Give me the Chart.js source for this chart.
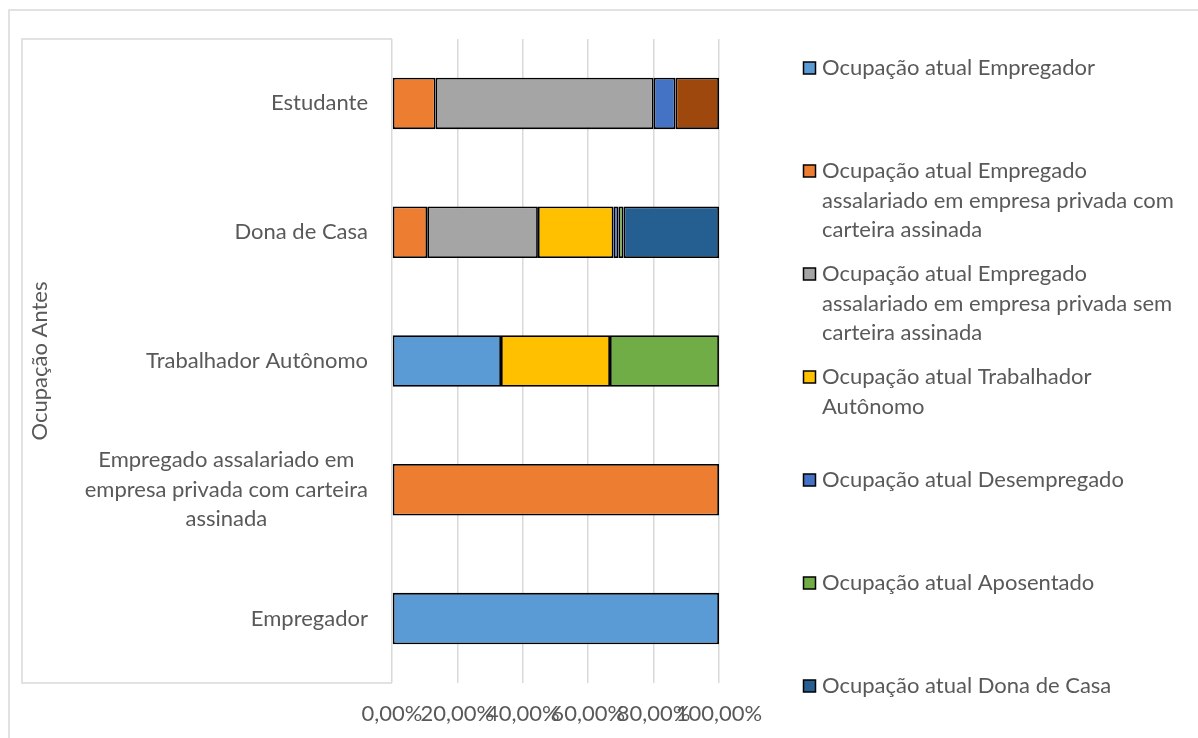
<!DOCTYPE html>
<html>
<head>
<meta charset="utf-8">
<script src="https://cdn.jsdelivr.net/npm/chart.js@4.4.1/dist/chart.umd.min.js"></script>
<style>
  html, body { margin: 0; padding: 0; background: #fff; }
  #wrap { position: relative; width: 1198px; height: 738px; }
</style>
</head>
<body>
<div id="wrap"><canvas id="c" width="1198" height="738"></canvas></div>
<script>
// Ocupação antes (linhas, de cima para baixo)
const categories = [
  ['Estudante'],
  ['Dona de Casa'],
  ['Trabalhador Autônomo'],
  ['Empregado assalariado em', 'empresa privada com carteira', 'assinada'],
  ['Empregador']
];

// Ocupação atual, em % de cada linha
const empregador     = [null, null, 33.33, null, 100];
const comCarteira    = [13.33, 10.77, null, 100, null];
const semCarteira    = [66.67, 33.85, null, null, null];
const autonomo       = [null, 23.08, 33.33, null, null];
const desempregado   = [6.67, 1.54, null, null, null];
const aposentado     = [null, 1.54, 33.33, null, null];
const donaDeCasa     = [null, 29.23, null, null, null];
const estudante      = [13.33, null, null, null, null];

const xTicks = [0, 20, 40, 60, 80, 100];

const seriesNames = [
  ['Ocupação atual Empregador'],
  ['Ocupação atual Empregado', 'assalariado em empresa privada com', 'carteira assinada'],
  ['Ocupação atual Empregado', 'assalariado em empresa privada sem', 'carteira assinada'],
  ['Ocupação atual Trabalhador', 'Autônomo'],
  ['Ocupação atual Desempregado'],
  ['Ocupação atual Aposentado'],
  ['Ocupação atual Dona de Casa'],
  ['Ocupação atual Estudante']
];
const seriesData = [empregador, comCarteira, semCarteira, autonomo, desempregado, aposentado, donaDeCasa, estudante];
const colors = ['#5B9BD5', '#ED7D31', '#A5A5A5', '#FFC000', '#4472C4', '#70AD47', '#255E91', '#9E480E'];
const legendCount = 7; // the last series does not fit in the legend column

const FONT = 'Lato, "Open Sans", sans-serif';
const FSIZE = 22;
const TEXT = '#595959';
const LINE = '#D9D9D9';

const datasets = seriesData.map((d, i) => ({
  label: seriesNames[i].join(' '),
  data: d,
  backgroundColor: colors[i],
  borderColor: '#000',
  borderWidth: 1.8,
  borderSkipped: false,
  categoryPercentage: 1,
  barPercentage: 0.4
}));

// frames, category labels and legend
const decor = {
  id: 'decor',
  beforeDraw(chart) {
    const ctx = chart.ctx;
    const a = chart.chartArea;
    ctx.save();
    ctx.strokeStyle = LINE;
    ctx.lineWidth = 1.5;
    // outer frame
    ctx.beginPath();
    ctx.moveTo(9, 738); ctx.lineTo(9, 10); ctx.lineTo(1198, 10);
    ctx.stroke();
    // plot frame on the label side
    ctx.beginPath();
    ctx.moveTo(a.left, a.top); ctx.lineTo(22, a.top); ctx.lineTo(22, a.bottom); ctx.lineTo(a.left, a.bottom);
    ctx.stroke();
    ctx.restore();
  },
  afterDraw(chart) {
    const ctx = chart.ctx;
    const y = chart.scales.y;
    ctx.save();
    ctx.fillStyle = TEXT;
    ctx.font = FSIZE + 'px ' + FONT;
    ctx.textBaseline = 'middle';
    const right = 368, lh = 29.5;
    categories.forEach((lines, i) => {
      const cy = y.getPixelForTick(i);
      if (lines.length === 1) {
        ctx.textAlign = 'right';
        ctx.fillText(lines[0], right, cy);
      } else {
        const w = Math.max(...lines.map(t => ctx.measureText(t).width));
        const cx = right - w / 2;
        ctx.textAlign = 'center';
        lines.forEach((t, j) => ctx.fillText(t, cx, cy + (j - (lines.length - 1) / 2) * lh));
      }
    });
    // legend
    ctx.textAlign = 'left';
    for (let k = 0; k < legendCount; k++) {
      const ty = 68 + k * 103;
      ctx.fillStyle = colors[k];
      ctx.fillRect(803.5, ty - 6, 12, 12);
      ctx.strokeStyle = '#000';
      ctx.lineWidth = 1.5;
      ctx.strokeRect(803.5, ty - 6, 12, 12);
      ctx.fillStyle = TEXT;
      seriesNames[k].forEach((t, j) => ctx.fillText(t, 822, ty + j * 29.5));
    }
    ctx.restore();
  }
};

new Chart(document.getElementById('c'), {
  type: 'bar',
  data: { labels: categories.map(l => l.join(' ')), datasets },
  options: {
    indexAxis: 'y',
    responsive: false,
    animation: false,
    layout: { padding: { left: 0, right: 479, top: 39, bottom: 0 } },
    plugins: { legend: { display: false }, tooltip: { enabled: false } },
    scales: {
      x: {
        stacked: true,
        min: 0, max: 100,
        afterBuildTicks: s => { s.ticks = xTicks.map(v => ({ value: v })); },
        afterFit: s => { s.height = 738 - 683; },
        grid: { color: LINE, lineWidth: 1.5, drawTicks: false },
        border: { display: false },
        ticks: {
          padding: 18,
          color: TEXT,
          font: { family: FONT, size: FSIZE },
          maxRotation: 0,
          autoSkip: false,
          callback: v => v.toFixed(2).replace('.', ',') + '%'
        }
      },
      y: {
        stacked: true,
        afterFit: s => { s.width = 392; },
        grid: { display: false },
        border: { display: false },
        ticks: { display: false },
        title: {
          display: true,
          text: 'Ocupação Antes',
          color: TEXT,
          font: { family: FONT, size: FSIZE },
          padding: { top: 27, bottom: 0 }
        }
      }
    }
  },
  plugins: [decor]
});
</script>
</body>
</html>
